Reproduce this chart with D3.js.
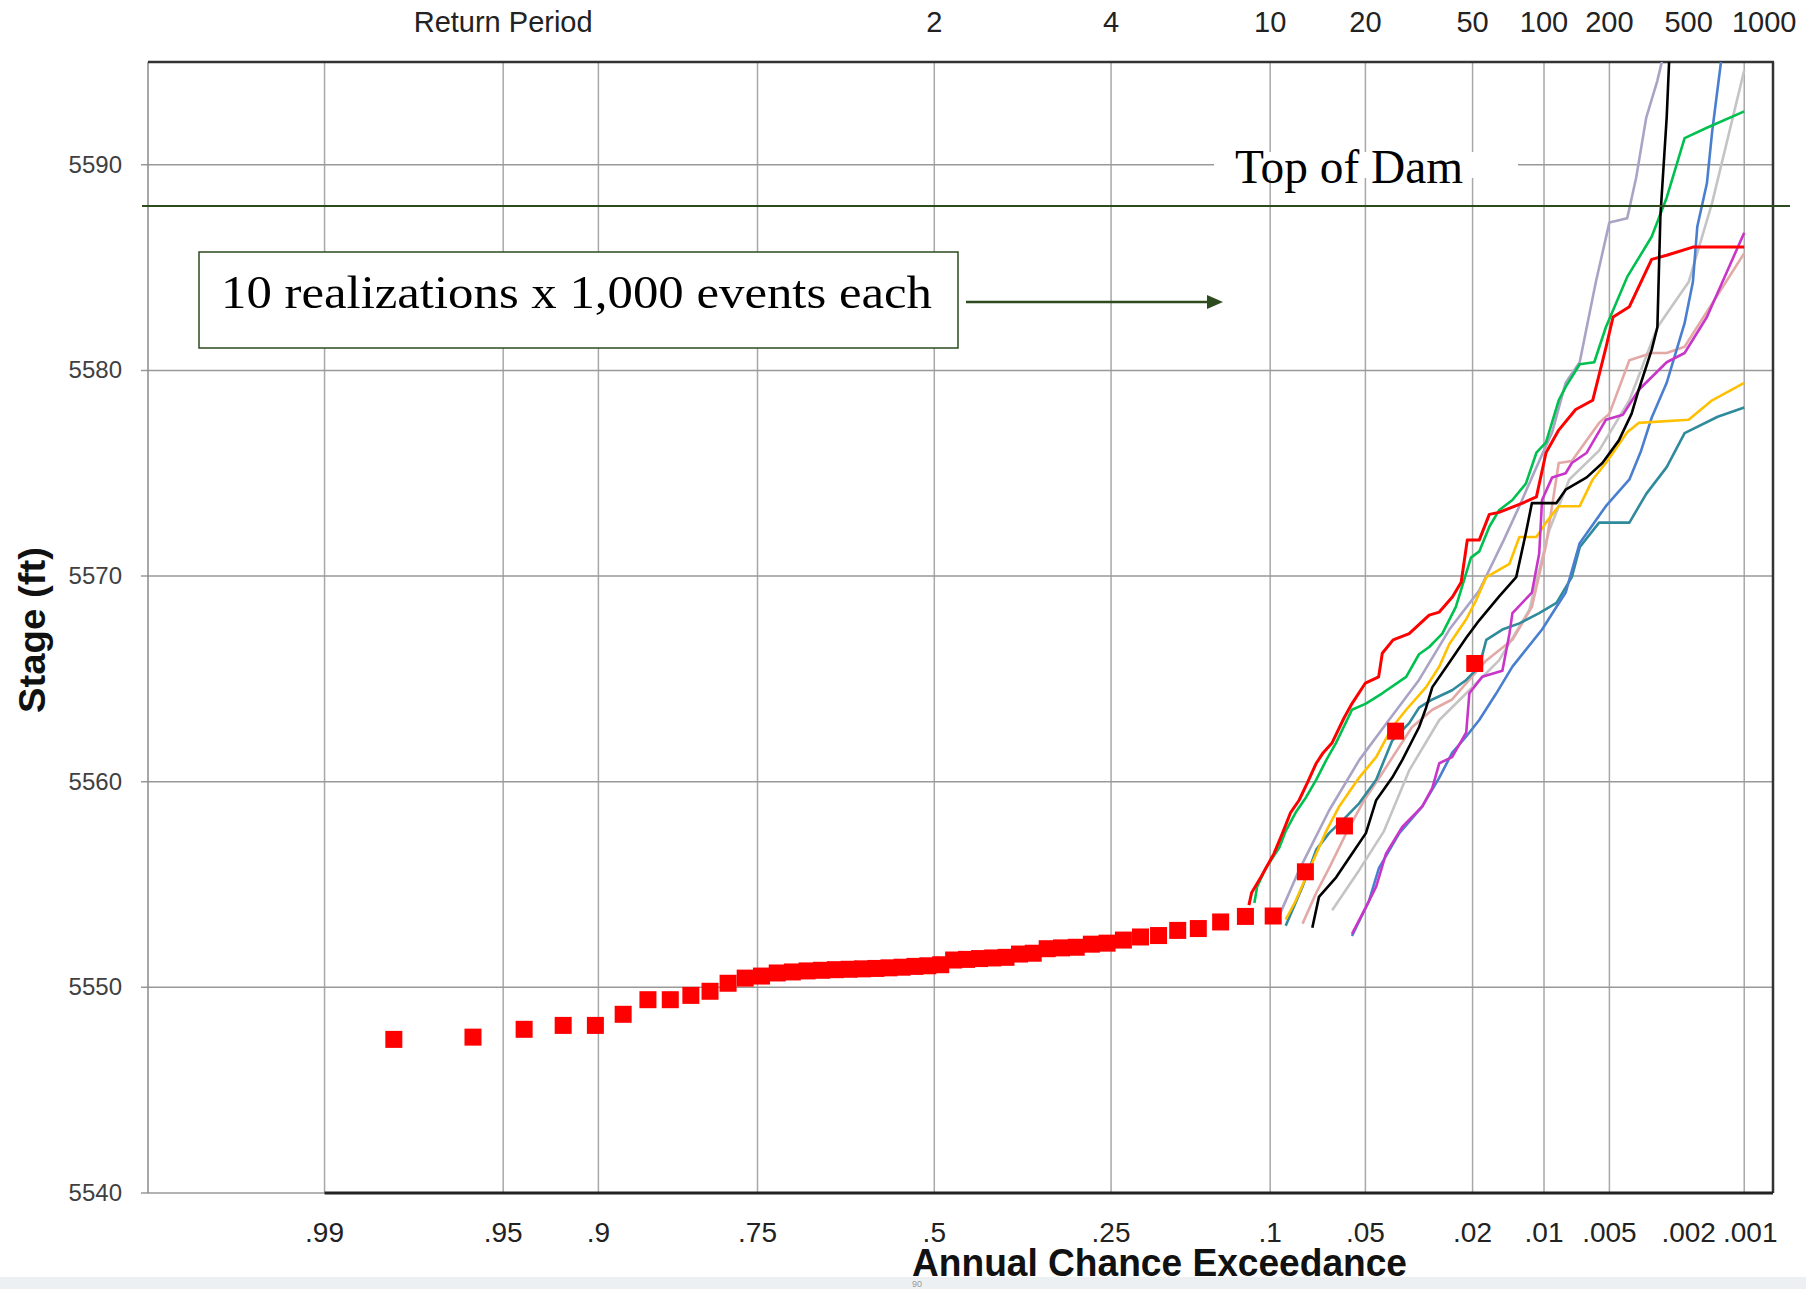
<!DOCTYPE html>
<html>
<head>
<meta charset="utf-8">
<script src="https://cdn.jsdelivr.net/npm/d3@7"></script>
<style>
  html, body { margin: 0; padding: 0; background: #fff; }
  svg { display: block; }
</style>
</head>
<body>
<div id="chart"></div>
<script>
// annual chance exceedance ticks (bottom) and return periods (top)
var aceTicks = [.99, .95, .9, .75, .5, .25, .1, .05, .02, .01, .005, .002, .001];
var aceLabels = [".99", ".95", ".9", ".75", ".5", ".25", ".1", ".05", ".02", ".01", ".005", ".002", ".001"];
var aceGrid = [.99, .95, .9, .75, .5, .25, .1, .05, .02, .01, .005, .001];
var returnPeriods = [2, 4, 10, 20, 50, 100, 200, 500, 1000];
var stageTicks = [5540, 5550, 5560, 5570, 5580, 5590];
var topOfDam = 5588;

// computed frequency curve (50 red squares)
var obsAce = [.0196, .0392, .0588, .0784, .0980, .1176, .1373, .1569, .1765, .1961,
  .2157, .2353, .2549, .2745, .2941, .3137, .3333, .3529, .3725, .3922,
  .4118, .4314, .4510, .4706, .4902, .5098, .5294, .5490, .5686, .5882,
  .6078, .6275, .6471, .6667, .6863, .7059, .7255, .7451, .7647, .7843,
  .8039, .8235, .8431, .8627, .8824, .9020, .9216, .9412, .9608, .9804];
var obsStage = [5565.75, 5562.46, 5557.85, 5555.62, 5553.47, 5553.45, 5553.18, 5552.86, 5552.77, 5552.52,
  5552.45, 5552.30, 5552.15, 5552.10, 5551.95, 5551.92, 5551.88, 5551.66, 5551.62, 5551.46,
  5551.43, 5551.40, 5551.36, 5551.33, 5551.10, 5551.05, 5551.02, 5550.98, 5550.95, 5550.92,
  5550.90, 5550.88, 5550.86, 5550.83, 5550.80, 5550.75, 5550.70, 5550.55, 5550.45, 5550.20,
  5549.81, 5549.61, 5549.40, 5549.40, 5548.69, 5548.15, 5548.15, 5547.96, 5547.58, 5547.47];

// 10 realizations, [ace, stage]
var realGray = [[.0645,5553.75],[.0525,5555.7],[.0431,5557.6],[.035,5560.55],[.027,5563.0],[.0206,5564.45],[.0156,5565.9],[.0116,5568.35],[.0095,5572.2],[.0077,5574.7],[.0056,5576.1],[.0040,5578.55],[.0029,5582.1],[.0020,5584.3],[.0015,5588.15],[.001,5594.6]];
var realLavender = [[.094,5553.5],[.082,5555.7],[.066,5558.6],[.0525,5561.05],[.0414,5563.0],[.0322,5564.95],[.0247,5567.4],[.0188,5569.3],[.0149,5571.75],[.0128,5573.4],[.0105,5575.6],[.0092,5577.0],[.0080,5579.4],[.0069,5580.4],[.0058,5584.3],[.0050,5587.2],[.0041,5587.4],[.0037,5589.4],[.0033,5592.3],[.0029,5594.1],[.0026,5596]];
var realPink = [[.080,5553.1],[.0725,5554.6],[.066,5555.8],[.058,5557.5],[.0505,5559.1],[.0431,5560.55],[.0342,5562.65],[.0287,5563.5],[.0241,5564.0],[.0176,5565.9],[.0137,5566.9],[.0113,5568.5],[.0098,5571.5],[.0086,5575.5],[.0075,5575.6],[.0056,5577.45],[.0050,5577.9],[.0040,5580.5],[.0031,5580.85],[.0026,5580.85],[.0021,5581.15],[.001,5585.7]];
var realTeal = [[.090,5553.0],[.080,5554.9],[.0725,5556.7],[.066,5557.5],[.058,5558.3],[.0525,5558.95],[.0459,5560.1],[.0403,5562.0],[.035,5562.85],[.0322,5563.6],[.0287,5564.0],[.0241,5564.45],[.0212,5564.95],[.0188,5565.6],[.0176,5566.9],[.0151,5567.4],[.0128,5567.7],[.0105,5568.2],[.0088,5568.7],[.0075,5569.95],[.0069,5571.4],[.0056,5572.6],[.0040,5572.6],[.0033,5574.0],[.0026,5575.3],[.0021,5576.95],[.0014,5577.75],[.001,5578.2]];
var realBlue = [[.0555,5552.5],[.0486,5554.2],[.0449,5555.8],[.038,5557.5],[.0313,5558.8],[.027,5560.2],[.0241,5561.4],[.0212,5562.2],[.0188,5563.0],[.016,5564.3],[.0137,5565.6],[.0102,5567.4],[.0080,5569.2],[.0069,5571.6],[.0052,5573.4],[.0040,5574.7],[.0035,5576.1],[.0031,5577.7],[.0026,5579.4],[.0021,5582.3],[.0019,5584.3],[.0018,5587.0],[.0016,5589.1],[.0015,5591.6],[.0013,5596]];
var realGold = [[.090,5553.3],[.084,5554.2],[.0725,5556.5],[.0674,5557.6],[.0612,5558.8],[.0525,5560.2],[.0459,5561.2],[.0403,5562.65],[.0359,5563.5],[.0303,5564.6],[.027,5565.6],[.0247,5566.7],[.0212,5567.9],[.0194,5568.8],[.0176,5569.95],[.0141,5570.6],[.0128,5571.9],[.0108,5571.9],[.0098,5572.6],[.0086,5573.4],[.0069,5573.4],[.0060,5574.7],[.0052,5575.5],[.0041,5577.0],[.0036,5577.45],[.0020,5577.6],[.0015,5578.55],[.001,5579.4]];
var realMagenta = [[.0555,5552.6],[.0498,5553.9],[.0459,5554.9],[.0424,5556.5],[.0371,5557.8],[.0313,5558.8],[.0287,5559.7],[.027,5560.9],[.0241,5561.2],[.0212,5562.4],[.0206,5564.3],[.0183,5565.1],[.0151,5565.4],[.0141,5567.2],[.0137,5568.2],[.0113,5569.2],[.0105,5571.1],[.0102,5573.7],[.0092,5574.8],[.0080,5575.0],[.0075,5575.5],[.0064,5576.0],[.0052,5577.6],[.0043,5577.85],[.0036,5579.05],[.0026,5580.4],[.0021,5580.85],[.0016,5582.6],[.001,5586.7]];
var realGreen = [[.111,5554.1],[.109,5554.9],[.103,5555.8],[.094,5556.8],[.090,5557.6],[.084,5558.5],[.078,5559.25],[.0725,5560.1],[.0674,5561.05],[.0626,5561.9],[.0555,5563.5],[.0498,5563.8],[.0437,5564.3],[.0359,5565.1],[.0322,5566.2],[.0295,5566.55],[.0263,5567.2],[.0233,5568.5],[.0203,5570.9],[.0188,5571.2],[.0171,5572.4],[.0156,5573.2],[.0137,5573.7],[.0120,5574.5],[.0108,5576.0],[.0098,5576.5],[.0086,5578.55],[.0080,5579.2],[.0069,5580.3],[.0059,5580.4],[.0052,5582.1],[.0041,5584.55],[.0031,5586.5],[.0026,5588.4],[.0021,5591.3],[.0016,5591.8],[.001,5592.6]];
var realRed = [[.115,5554.0],[.113,5554.6],[.106,5555.4],[.0975,5556.5],[.092,5557.5],[.087,5558.5],[.082,5559.1],[.077,5560.0],[.0725,5560.9],[.069,5561.4],[.0645,5561.9],[.059,5563.1],[.0555,5563.8],[.050,5564.8],[.045,5565.1],[.0437,5566.25],[.040,5566.9],[.035,5567.2],[.0295,5568.1],[.027,5568.25],[.024,5569.0],[.0222,5569.7],[.021,5571.75],[.0188,5571.75],[.0171,5573.0],[.0156,5573.1],[.0124,5573.55],[.0108,5573.85],[.0098,5576.0],[.0086,5577.1],[.0072,5578.1],[.0060,5578.55],[.0052,5581.1],[.0048,5582.6],[.0040,5583.1],[.0031,5585.4],[.0026,5585.6],[.0019,5586.0],[.001,5586.0]];
var realBlack = [[.0746,5552.9],[.0711,5554.4],[.0626,5555.35],[.0555,5556.5],[.0498,5557.5],[.0459,5559.1],[.0403,5560.2],[.0371,5561.05],[.0322,5562.65],[.0303,5563.6],[.0287,5564.6],[.0247,5565.8],[.0212,5567.0],[.0188,5567.85],[.0156,5569.0],[.0132,5569.95],[.0120,5572.1],[.0113,5573.55],[.0088,5573.55],[.0080,5574.2],[.0064,5574.8],[.0054,5575.5],[.0045,5576.6],[.0039,5577.9],[.0036,5579.05],[.0031,5581.0],[.0029,5582.1],[.0028,5587.5],[.0026,5592.3],[.0025,5596.0]];

var realizations = [realGray, realLavender, realPink, realTeal, realBlue, realGold, realMagenta, realGreen, realRed, realBlack];
var realColors = ["#c4c4c4", "#aaa3c6", "#e3a9a6", "#2f8a9c", "#4a7fd0", "#ffc000", "#c935c9", "#00c050", "#ff0000", "#000000"];

// inverse standard normal cdf (Acklam)
function invNorm(p) {
  var a = [-3.969683028665376e+01, 2.209460984245205e+02, -2.759285104469687e+02, 1.383577518672690e+02, -3.066479806614716e+01, 2.506628277459239e+00];
  var b = [-5.447609879822406e+01, 1.615858368580409e+02, -1.556989798598866e+02, 6.680131188771972e+01, -1.328068155288572e+01];
  var c = [-7.784894002430293e-03, -3.223964580411365e-01, -2.400758277161838e+00, -2.549732539343734e+00, 4.374664141464968e+00, 2.938163982698783e+00];
  var d = [7.784695709041462e-03, 3.224671290700398e-01, 2.445134137142996e+00, 3.754408661907416e+00];
  var q, r;
  if (p < 0.02425) {
    q = Math.sqrt(-2 * Math.log(p));
    return (((((c[0]*q+c[1])*q+c[2])*q+c[3])*q+c[4])*q+c[5]) / ((((d[0]*q+d[1])*q+d[2])*q+d[3])*q+1);
  }
  if (p <= 1 - 0.02425) {
    q = p - 0.5; r = q * q;
    return (((((a[0]*r+a[1])*r+a[2])*r+a[3])*r+a[4])*r+a[5])*q / (((((b[0]*r+b[1])*r+b[2])*r+b[3])*r+b[4])*r+1);
  }
  q = Math.sqrt(-2 * Math.log(1 - p));
  return -(((((c[0]*q+c[1])*q+c[2])*q+c[3])*q+c[4])*q+c[5]) / ((((d[0]*q+d[1])*q+d[2])*q+d[3])*q+1);
}

var W = 1806, H = 1289;
var plot = {left: 148, right: 1773, top: 62, bottom: 1193};
var darkGreen = "#2d4b1f";
var sans = "'Liberation Sans', Arial, sans-serif";
var serif = "'Liberation Serif', 'DejaVu Serif', serif";

// normal probability scale on exceedance
var zScale = d3.scaleLinear().domain([-3.0, 3.2]).range([plot.left, plot.right]);
function x(p) { return zScale(-invNorm(p)); }
var y = d3.scaleLinear().domain([5540, 5595]).range([plot.bottom, plot.top]);

var svg = d3.select("#chart").append("svg")
  .attr("xmlns", "http://www.w3.org/2000/svg")
  .attr("width", W).attr("height", H);

svg.append("rect").attr("width", W).attr("height", H).attr("fill", "#fff");

// bottom screen band
svg.append("rect").attr("x", 0).attr("y", 1277).attr("width", W).attr("height", H - 1277).attr("fill", "#edf0f2");
svg.append("text").attr("x", 912).attr("y", 1287).attr("font-family", sans).attr("font-size", 9)
  .attr("fill", "#999").text("90");

// grid
svg.append("g").selectAll("line").data(aceGrid).enter().append("line")
  .attr("x1", function(d) { return x(d); }).attr("x2", function(d) { return x(d); })
  .attr("y1", plot.top).attr("y2", plot.bottom)
  .attr("stroke", "#a8a8a8").attr("stroke-width", 1.5);

svg.append("g").selectAll("line").data(stageTicks).enter().append("line")
  .attr("x1", plot.left - 7).attr("x2", plot.right)
  .attr("y1", function(d) { return y(d); }).attr("y2", function(d) { return y(d); })
  .attr("stroke", "#999").attr("stroke-width", 1.5);

// borders
svg.append("line").attr("x1", plot.left).attr("x2", plot.left).attr("y1", plot.top).attr("y2", plot.bottom)
  .attr("stroke", "#8a8a8a").attr("stroke-width", 1.5);
svg.append("line").attr("x1", plot.left).attr("x2", plot.right + 1).attr("y1", plot.top).attr("y2", plot.top)
  .attr("stroke", "#333").attr("stroke-width", 2.5);
svg.append("line").attr("x1", plot.right).attr("x2", plot.right).attr("y1", plot.top).attr("y2", plot.bottom)
  .attr("stroke", "#333").attr("stroke-width", 2.5);
svg.append("line").attr("x1", x(.99)).attr("x2", plot.right).attr("y1", plot.bottom).attr("y2", plot.bottom)
  .attr("stroke", "#222").attr("stroke-width", 3);

// y labels
svg.append("g").selectAll("text").data(stageTicks).enter().append("text")
  .attr("x", 122).attr("y", function(d) { return y(d) + 8; })
  .attr("text-anchor", "end").attr("font-family", sans).attr("font-size", 24)
  .attr("fill", "#404040").text(function(d) { return d; });

// bottom labels
svg.append("g").selectAll("text").data(aceTicks).enter().append("text")
  .attr("x", function(d) { return x(d); }).attr("y", 1242)
  .attr("dx", function(d) { return d === .001 ? 6 : 0; })
  .attr("text-anchor", "middle").attr("font-family", sans).attr("font-size", 28)
  .attr("fill", "#222").text(function(d, i) { return aceLabels[i]; });

// top labels (return period)
svg.append("g").selectAll("text").data(returnPeriods).enter().append("text")
  .attr("x", function(d) { return x(1 / d); }).attr("y", 32)
  .attr("dx", function(d) { return d === 1000 ? 20 : 0; })
  .attr("text-anchor", "middle").attr("font-family", sans).attr("font-size", 29)
  .attr("fill", "#222").text(function(d) { return d; });
svg.append("text").attr("x", x(.95)).attr("y", 32).attr("text-anchor", "middle")
  .attr("font-family", sans).attr("font-size", 29).attr("fill", "#222").text("Return Period");

// axis titles
svg.append("text").attr("x", 912).attr("y", 1276)
  .attr("font-family", sans).attr("font-weight", "bold").attr("font-size", 38)
  .attr("textLength", 495).attr("lengthAdjust", "spacingAndGlyphs")
  .attr("fill", "#111").text("Annual Chance Exceedance");
svg.append("text").attr("transform", "translate(45,713) rotate(-90)")
  .attr("font-family", sans).attr("font-weight", "bold").attr("font-size", 36)
  .attr("textLength", 166).attr("lengthAdjust", "spacingAndGlyphs")
  .attr("fill", "#111").text("Stage (ft)");

// top of dam
svg.append("rect").attr("x", 1214).attr("y", 152).attr("width", 304).attr("height", 26).attr("fill", "#fff");
svg.append("text").attr("x", 1235).attr("y", 183)
  .attr("font-family", serif).attr("font-size", 48)
  .attr("textLength", 228).attr("lengthAdjust", "spacingAndGlyphs")
  .attr("fill", "#000").text("Top of Dam");

// realizations
svg.append("clipPath").attr("id", "clip").append("rect")
  .attr("x", plot.left).attr("y", plot.top).attr("width", plot.right - plot.left).attr("height", plot.bottom - plot.top);

var line = d3.line().x(function(d) { return x(d[0]); }).y(function(d) { return y(d[1]); });

svg.append("g").attr("clip-path", "url(#clip)")
  .selectAll("path").data(realizations).enter().append("path")
  .attr("d", line)
  .attr("fill", "none")
  .attr("stroke", function(d, i) { return realColors[i]; })
  .attr("stroke-width", function(d, i) { return realColors[i] === "#ff0000" ? 3 : 2.6; })
  .attr("stroke-linejoin", "round");

svg.append("line").attr("x1", 142).attr("x2", 1790).attr("y1", y(topOfDam)).attr("y2", y(topOfDam))
  .attr("stroke", darkGreen).attr("stroke-width", 2);

// computed curve squares
var sq = 17;
svg.append("g").selectAll("rect").data(obsAce).enter().append("rect")
  .attr("x", function(d) { return x(d) - sq / 2; })
  .attr("y", function(d, i) { return y(obsStage[i]) - sq / 2; })
  .attr("width", sq).attr("height", sq)
  .attr("fill", "#ff0000");

// annotation
svg.append("rect").attr("x", 199).attr("y", 252).attr("width", 759).attr("height", 96)
  .attr("fill", "#fff").attr("stroke", darkGreen).attr("stroke-width", 1.5);
svg.append("text").attr("x", 221).attr("y", 308)
  .attr("font-family", serif).attr("font-size", 47)
  .attr("textLength", 711).attr("lengthAdjust", "spacingAndGlyphs")
  .attr("fill", "#000").text("10 realizations x 1,000 events each");
svg.append("line").attr("x1", 966).attr("x2", 1210).attr("y1", 302).attr("y2", 302)
  .attr("stroke", darkGreen).attr("stroke-width", 2.5);
svg.append("path").attr("d", "M1223,302 L1207,295 L1207,309 Z").attr("fill", darkGreen);
</script>
</body>
</html>
